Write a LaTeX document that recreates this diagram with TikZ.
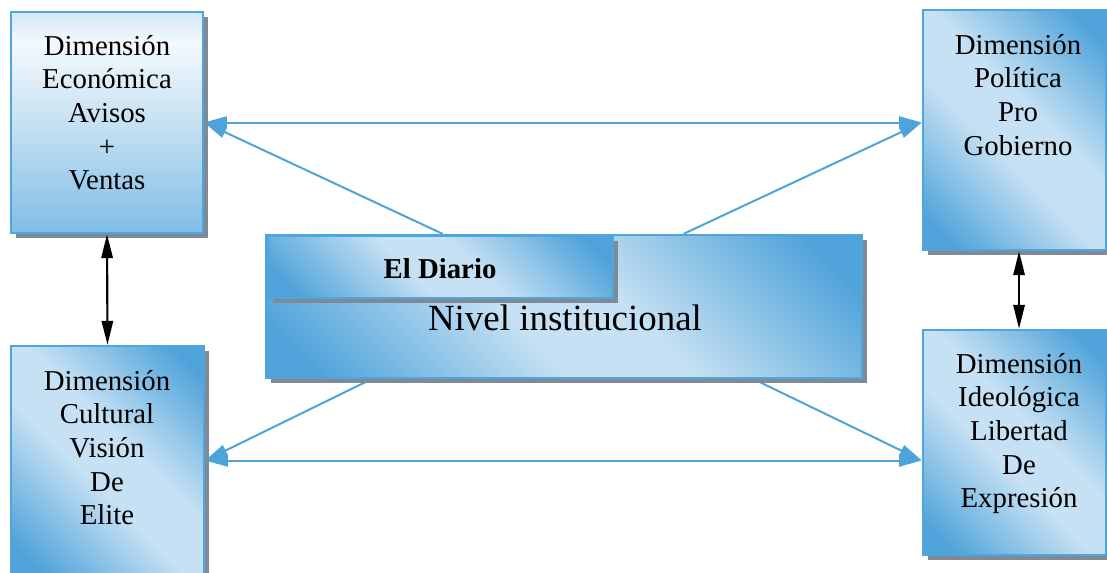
\documentclass[tikz,border=0pt]{standalone}
\usepackage{fontspec}
\setmainfont{Liberation Serif}
\usetikzlibrary{shadows,arrows.meta,calc,backgrounds}
\definecolor{bdark}{RGB}{79,163,218}
\definecolor{blight}{RGB}{198,225,243}
\definecolor{bwhite}{RGB}{244,249,253}
\definecolor{btop}{RGB}{210,231,246}
\definecolor{bbot}{RGB}{128,189,230}
\definecolor{bborder}{RGB}{79,166,220}
\definecolor{shgray}{RGB}{128,138,150}
\definecolor{arrblue}{RGB}{77,163,218}
\pgfdeclarehorizontalshading{diagsh}{100bp}{color(0bp)=(bdark); color(20bp)=(bdark); color(44bp)=(blight); color(56bp)=(blight); color(80bp)=(bdark); color(100bp)=(bdark)}
\pgfdeclareverticalshading{econsh}{100bp}{color(0bp)=(bbot); color(25bp)=(bbot); color(50bp)=(blight); color(68bp)=(bwhite); color(75bp)=(btop); color(100bp)=(btop)}
\tikzset{
  btip/.tip={Triangle[length=17pt,width=9pt]},
  ktip/.tip={Triangle[length=18pt,width=8.5pt]},
  box/.style={draw=bborder, line width=1.8pt, inner sep=0pt,
    drop shadow={shadow xshift=3.5pt, shadow yshift=-3.5pt, fill=shgray, opacity=1}},
  dbox/.style={box, shading=diagsh, shading angle=45},
  txt/.style={font=\fontsize{21.6pt}{25.2pt}\selectfont, align=center, inner sep=0pt},
  barrow/.style={draw=arrblue, line width=1.5pt},
  karrow/.style={draw=black, line width=1.6pt, ktip-ktip}
}
\begin{document}
\begin{tikzpicture}[x=0.75pt,y=-0.75pt]
\useasboundingbox (0,0) rectangle (1107,572);

\node[box, shading=econsh, minimum width=144pt, minimum height=165.75pt] (econ) at (107,122.5) {};
\node[dbox, minimum width=137.25pt, minimum height=180pt] (pol) at (1014.5,130) {};
\node[dbox, minimum width=137.25pt, minimum height=168.75pt] (ideo) at (1014.5,442.5) {};
\node[dbox, minimum width=144.75pt, minimum height=171.75pt] (cul) at (107.5,460.5) {};
\node[dbox, minimum width=447pt, minimum height=107.25pt] (ctr) at (564,306.5) {};
\node[dbox, minimum width=258.75pt, minimum height=46.5pt] (diario) at (440.5,267) {};

\node[txt, anchor=north] (econT) at (107,35) {Dimensión\\Económica\\Avisos\\+\\Ventas};
\node[txt, anchor=north] (polT) at (1018,34) {Dimensión\\Política\\Pro\\Gobierno};
\node[txt, anchor=north] (ideoT) at (1019,353) {Dimensión\\Ideológica\\Libertad\\De\\Expresión};
\node[txt, anchor=north] (culT) at (107,370) {Dimensión\\Cultural\\Visión\\De\\Elite};
\node[font=\fontsize{21.6pt}{26pt}\selectfont\bfseries, anchor=base, inner sep=0pt] (diarioT) at (440,278) {El Diario};
\node[font=\fontsize{27.7pt}{32pt}\selectfont, anchor=base, inner sep=0pt] (ctrT) at (565,330) {Nivel institucional};

\coordinate (ptop) at (econ.east -| pol.west);
\coordinate (pbot) at (cul.east -| ideo.west);
\coordinate (d1) at ($(ctr.north west)!0.297!(ctr.north east)$);
\coordinate (d2) at ($(ctr.north west)!0.700!(ctr.north east)$);
\coordinate (d3) at ($(ctr.south west)!0.178!(ctr.south east)$);
\coordinate (d4) at ($(ctr.south west)!0.817!(ctr.south east)$);

\begin{scope}[on background layer]
\draw[barrow, -btip] (d1) -- (econ.east);
\draw[barrow, -btip] (d2) -- (ptop);
\draw[barrow, -btip] (d3) -- (cul.east);
\draw[barrow, -btip] (d4) -- (pbot);
\end{scope}
\draw[barrow, btip-btip] (econ.east) -- (ptop);
\draw[barrow, btip-btip] (cul.east) -- (pbot);
\draw[karrow] (econ.south) -- (cul.north);
\draw[karrow] ([xshift=3.4pt]pol.south) -- ([xshift=3.4pt]ideo.north);
\end{tikzpicture}
\end{document}
